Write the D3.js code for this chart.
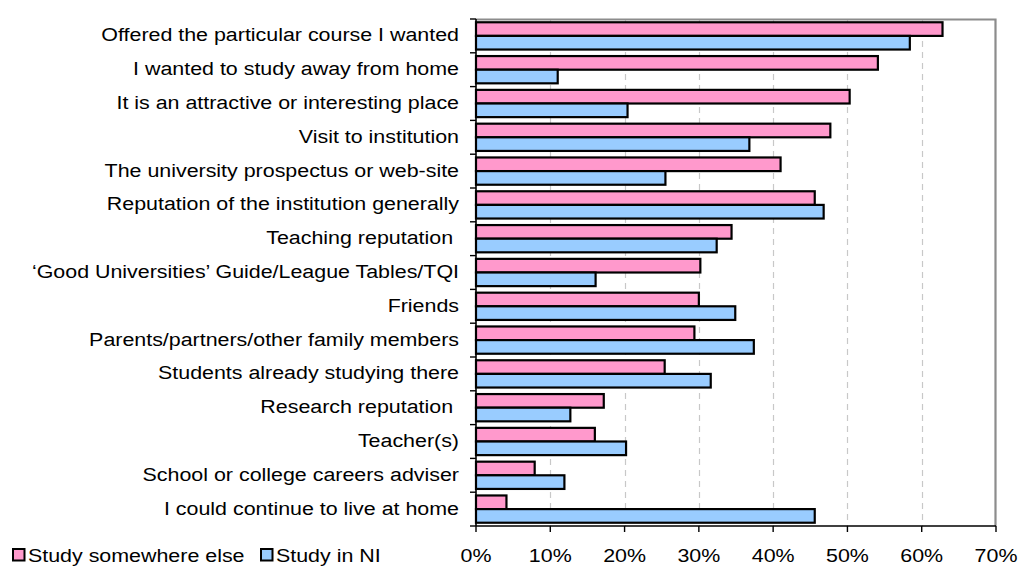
<!DOCTYPE html>
<html>
<head>
<meta charset="utf-8">
<script src="https://cdn.jsdelivr.net/npm/d3@7"></script>
<style>
  body { margin: 0; background: #fff; }
  text { font-family: "Liberation Sans", Arial, sans-serif; fill: #000; font-size: 18px; }
</style>
</head>
<body>
<svg width="1020" height="566"></svg>
<script>
"use strict";

var categories = [
  "Offered the particular course I wanted",
  "I wanted to study away from home",
  "It is an attractive or interesting place",
  "Visit to institution",
  "The university prospectus or web-site",
  "Reputation of the institution generally",
  "Teaching reputation ",
  "\u2018Good Universities\u2019 Guide/League Tables/TQI",
  "Friends",
  "Parents/partners/other family members",
  "Students already studying there",
  "Research reputation ",
  "Teacher(s)",
  "School or college careers adviser",
  "I could continue to live at home"
];
var elsewhere = [62.8, 54.1, 50.3, 47.7, 41.0, 45.6, 34.4, 30.2, 30.0, 29.4, 25.4, 17.2, 16.0, 7.9, 4.1];
var inNI      = [58.4, 11.0, 20.4, 36.8, 25.5, 46.8, 32.4, 16.1, 34.9, 37.4, 31.6, 12.7, 20.2, 11.9, 45.6];
var seriesNames = ["Study somewhere else", "Study in NI"];
var seriesColors = ["#ff99cc", "#99ccff"];
var xTicks = [0, 10, 20, 30, 40, 50, 60, 70];

var svg = d3.select("svg"),
    plotLeft = 476, plotRight = 996, plotTop = 19, plotBottom = 526,
    stretch = 1.19;   // the original text is a little wider than it is tall

var x = d3.scaleLinear().domain([0, 70]).range([plotLeft, plotRight]);
var y = d3.scaleBand().domain(categories).range([plotTop, plotBottom]);
var inner = d3.scaleBand().domain([0, 1]).range([0, y.bandwidth()]).paddingOuter(0.24);

// dashed gridlines
svg.append("g").selectAll("line")
  .data(xTicks.slice(1, -1))
  .enter().append("line")
    .attr("x1", d => Math.round(x(d)) + 0.5)
    .attr("x2", d => Math.round(x(d)) + 0.5)
    .attr("y1", plotTop).attr("y2", plotBottom)
    .attr("stroke", "#c8c8c8")
    .attr("stroke-width", 1.2)
    .attr("stroke-dasharray", "6,5");

// plot frame (top/right grey)
svg.append("path")
  .attr("d", `M ${plotLeft} ${plotTop + 0.5} H ${plotRight - 0.5} V ${plotBottom}`)
  .attr("fill", "none")
  .attr("stroke", "#8c8c8c")
  .attr("stroke-width", 2.2);

var rows = categories.map((c, i) => ({ cat: c, vals: [elsewhere[i], inNI[i]] }));

var groups = svg.append("g").selectAll("g")
  .data(rows)
  .enter().append("g")
    .attr("transform", d => "translate(0," + y(d.cat) + ")");

groups.selectAll("rect")
  .data(d => d.vals.map((v, k) => ({ v: v, k: k })))
  .enter().append("rect")
    .attr("x", x(0))
    .attr("y", d => inner(d.k))
    .attr("width", d => x(d.v) - x(0))
    .attr("height", inner.bandwidth())
    .attr("fill", d => seriesColors[d.k])
    .attr("stroke", "#000")
    .attr("stroke-width", 2.2);

// left axis with ticks at band boundaries
var yAxis = svg.append("g");
yAxis.append("line")
  .attr("x1", plotLeft).attr("x2", plotLeft)
  .attr("y1", plotTop).attr("y2", plotBottom)
  .attr("stroke", "#000").attr("stroke-width", 1.6);
yAxis.selectAll("line.tick")
  .data(d3.range(categories.length + 1))
  .enter().append("line")
    .attr("class", "tick")
    .attr("x1", plotLeft - 6).attr("x2", plotLeft)
    .attr("y1", i => plotTop + i * y.step())
    .attr("y2", i => plotTop + i * y.step())
    .attr("stroke", "#000").attr("stroke-width", 1.4);
yAxis.selectAll("text")
  .data(categories)
  .enter().append("text")
    .attr("transform", d => "translate(" + (plotLeft - 17) + "," + (y(d) + y.bandwidth() / 2 + 5.5) + ") scale(" + stretch + ",1)")
    .attr("text-anchor", "end")
    .attr("xml:space", "preserve")
    .style("white-space", "pre")
    .text(d => d);

// bottom axis
var xAxis = svg.append("g");
xAxis.append("line")
  .attr("x1", plotLeft).attr("x2", plotRight)
  .attr("y1", plotBottom).attr("y2", plotBottom)
  .attr("stroke", "#000").attr("stroke-width", 1.6);
xAxis.selectAll("line.tick")
  .data(xTicks)
  .enter().append("line")
    .attr("class", "tick")
    .attr("x1", d => x(d)).attr("x2", d => x(d))
    .attr("y1", plotBottom).attr("y2", plotBottom + 6)
    .attr("stroke", "#000").attr("stroke-width", 1.4);
xAxis.selectAll("text")
  .data(xTicks)
  .enter().append("text")
    .attr("transform", d => "translate(" + x(d) + ",562) scale(" + stretch + ",1)")
    .attr("text-anchor", "middle")
    .text(d => d + "%");

// legend
var legendX = [13, 261];
var legend = svg.append("g").selectAll("g")
  .data(seriesNames)
  .enter().append("g")
    .attr("transform", (d, i) => "translate(" + legendX[i] + ",549)");
legend.append("rect")
  .attr("width", 11.5).attr("height", 11.5)
  .attr("fill", (d, i) => seriesColors[i])
  .attr("stroke", "#000").attr("stroke-width", 2);
legend.append("text")
  .attr("transform", "translate(15,13) scale(" + stretch + ",1)")
  .text(d => d);
</script>
</body>
</html>
